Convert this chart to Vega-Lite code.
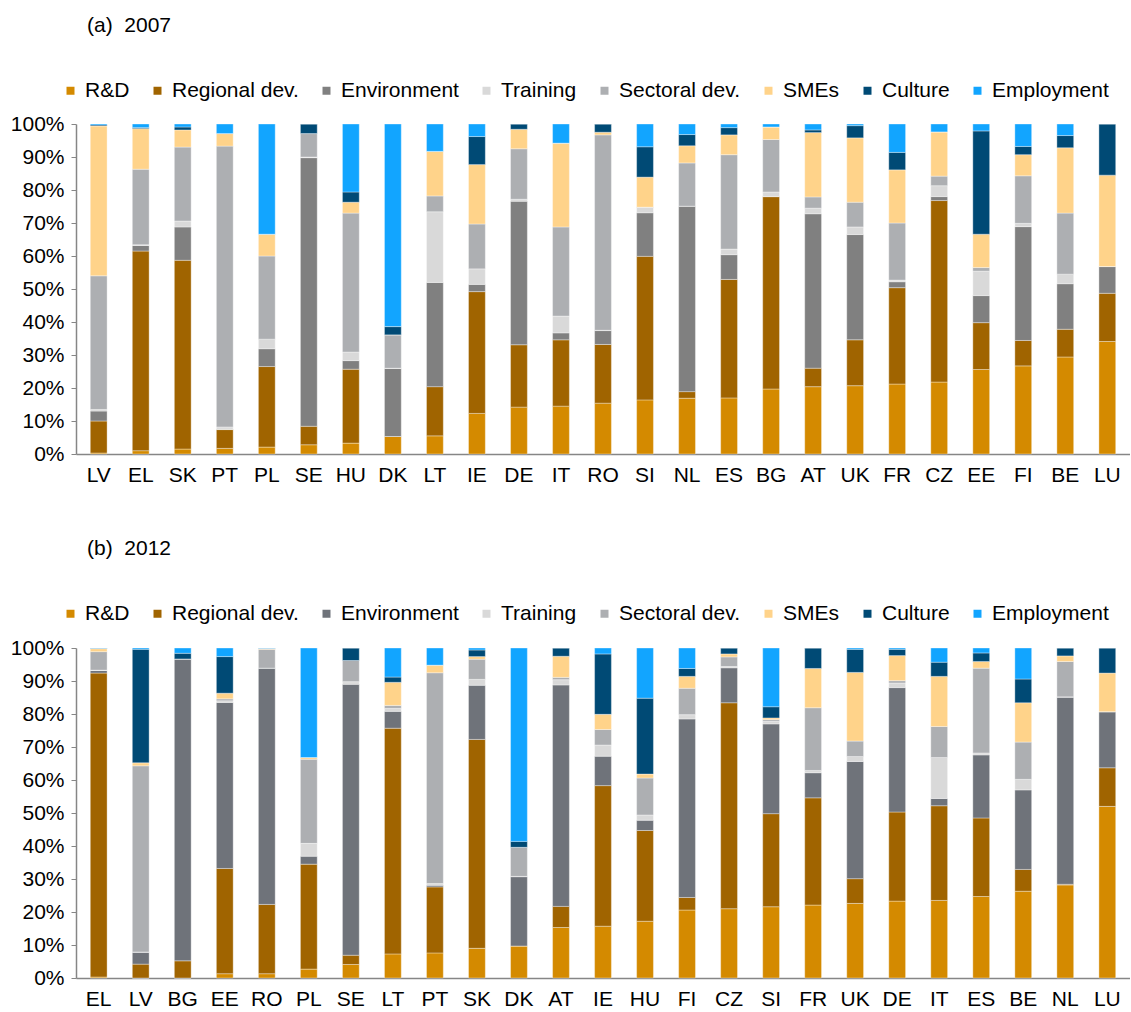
{
  "$schema": "https://vega.github.io/schema/vega-lite/v6.json",
  "background": "white",
  "padding": {"left": 10, "top": 15, "right": 0, "bottom": 0},
  "spacing": 53,
  "config": {
    "font": "Liberation Sans",
    "view": {"stroke": null},
    "axis": {"labelFont": "Liberation Sans", "labelFontSize": 21, "labelColor": "#000000", "domainColor": "#868686", "tickColor": "#868686", "domainWidth": 1.5, "grid": false, "title": null},
    "legend": {"labelFont": "Liberation Sans", "labelFontSize": 21, "labelColor": "#000000", "symbolType": "square", "symbolSize": 64, "symbolStrokeWidth": 0, "labelOffset": 4, "columnPadding": 17, "direction": "horizontal", "title": null},
    "title": {"font": "Liberation Sans", "fontSize": 21, "fontWeight": "normal", "color": "#000000", "anchor": "start", "frame": "group"}
  },
  "datasets": {
    "a": [
      {"c":"LV","a_rd":0.3,"b_reg":9.7,"c_env":3,"d_tr":0.5,"e_sec":40.5,"f_sme":45.4,"g_cul":0.3,"h_emp":0.3},
      {"c":"EL","a_rd":1,"b_reg":60.5,"c_env":1.7,"d_tr":0.2,"e_sec":22.9,"f_sme":12.3,"g_cul":0.3,"h_emp":1.1},
      {"c":"SK","a_rd":1.5,"b_reg":57.2,"c_env":10.1,"d_tr":1.8,"e_sec":22.4,"f_sme":5.2,"g_cul":0.9,"h_emp":0.9},
      {"c":"PT","a_rd":1.7,"b_reg":5.7,"c_env":0.1,"d_tr":0.7,"e_sec":85.1,"f_sme":3.8,"g_cul":0,"h_emp":2.9},
      {"c":"PL","a_rd":2.1,"b_reg":24.4,"c_env":5.4,"d_tr":2.9,"e_sec":25.2,"f_sme":6.6,"g_cul":0,"h_emp":33.4},
      {"c":"SE","a_rd":2.8,"b_reg":5.6,"c_env":81.4,"d_tr":0.2,"e_sec":7.1,"f_sme":0,"g_cul":2.9,"h_emp":0},
      {"c":"HU","a_rd":3.3,"b_reg":22.4,"c_env":2.6,"d_tr":2.6,"e_sec":42.1,"f_sme":3.3,"g_cul":3.1,"h_emp":20.6},
      {"c":"DK","a_rd":5.3,"b_reg":0,"c_env":20.6,"d_tr":0.1,"e_sec":10.1,"f_sme":0,"g_cul":2.5,"h_emp":61.4},
      {"c":"LT","a_rd":5.5,"b_reg":14.9,"c_env":31.6,"d_tr":21.4,"e_sec":4.8,"f_sme":13.5,"g_cul":0,"h_emp":8.3},
      {"c":"IE","a_rd":12.3,"b_reg":36.9,"c_env":2.2,"d_tr":4.7,"e_sec":13.6,"f_sme":18,"g_cul":8.5,"h_emp":3.8},
      {"c":"DE","a_rd":14.2,"b_reg":18.9,"c_env":43.5,"d_tr":0.6,"e_sec":15.3,"f_sme":5.9,"g_cul":1.6,"h_emp":0},
      {"c":"IT","a_rd":14.5,"b_reg":20.1,"c_env":2.1,"d_tr":5.1,"e_sec":27,"f_sme":25.4,"g_cul":0,"h_emp":5.8},
      {"c":"RO","a_rd":15.4,"b_reg":17.8,"c_env":4.2,"d_tr":0.1,"e_sec":59.2,"f_sme":0.8,"g_cul":2.5,"h_emp":0},
      {"c":"SI","a_rd":16.4,"b_reg":43.5,"c_env":13.2,"d_tr":1.6,"e_sec":0.1,"f_sme":9.1,"g_cul":9.2,"h_emp":6.9},
      {"c":"NL","a_rd":16.9,"b_reg":2,"c_env":56.2,"d_tr":0,"e_sec":13.1,"f_sme":5.2,"g_cul":3.4,"h_emp":3.2},
      {"c":"ES","a_rd":17,"b_reg":35.9,"c_env":7.5,"d_tr":1.7,"e_sec":28.6,"f_sme":6,"g_cul":2.2,"h_emp":1.1},
      {"c":"BG","a_rd":19.7,"b_reg":58.3,"c_env":0,"d_tr":1.4,"e_sec":15.9,"f_sme":3.8,"g_cul":0,"h_emp":0.9},
      {"c":"AT","a_rd":20.4,"b_reg":5.6,"c_env":46.8,"d_tr":1.7,"e_sec":3.4,"f_sme":19.5,"g_cul":0.8,"h_emp":1.8},
      {"c":"UK","a_rd":20.7,"b_reg":13.9,"c_env":31.9,"d_tr":2.3,"e_sec":7.5,"f_sme":19.5,"g_cul":3.7,"h_emp":0.5},
      {"c":"FR","a_rd":21.2,"b_reg":29.2,"c_env":1.8,"d_tr":0.5,"e_sec":17.3,"f_sme":16.1,"g_cul":5.3,"h_emp":8.6},
      {"c":"CZ","a_rd":21.8,"b_reg":55,"c_env":1.2,"d_tr":3.3,"e_sec":2.9,"f_sme":13.4,"g_cul":0,"h_emp":2.4},
      {"c":"EE","a_rd":25.6,"b_reg":14.2,"c_env":8.2,"d_tr":7.4,"e_sec":1.1,"f_sme":10.1,"g_cul":31.3,"h_emp":2.1},
      {"c":"FI","a_rd":26.7,"b_reg":7.7,"c_env":34.5,"d_tr":1,"e_sec":14.4,"f_sme":6.4,"g_cul":2.5,"h_emp":6.8},
      {"c":"BE","a_rd":29.4,"b_reg":8.4,"c_env":13.8,"d_tr":2.9,"e_sec":18.5,"f_sme":19.8,"g_cul":3.7,"h_emp":3.5},
      {"c":"LU","a_rd":34.1,"b_reg":14.6,"c_env":8.1,"d_tr":0,"e_sec":0,"f_sme":27.7,"g_cul":15.5,"h_emp":0}
    ],
    "b": [
      {"c":"EL","a_rd":0.3,"b_reg":92.1,"c_env":0.8,"d_tr":0.1,"e_sec":5.6,"f_sme":0.9,"g_cul":0.1,"h_emp":0.1},
      {"c":"LV","a_rd":0,"b_reg":4.2,"c_env":3.6,"d_tr":0.1,"e_sec":56.4,"f_sme":0.9,"g_cul":34.4,"h_emp":0.4},
      {"c":"BG","a_rd":0,"b_reg":5.2,"c_env":91.5,"d_tr":0,"e_sec":0,"f_sme":0,"g_cul":1.7,"h_emp":1.6},
      {"c":"EE","a_rd":1.3,"b_reg":31.9,"c_env":50.3,"d_tr":0.5,"e_sec":0.6,"f_sme":1.7,"g_cul":11.1,"h_emp":2.6},
      {"c":"RO","a_rd":1.3,"b_reg":21,"c_env":71.6,"d_tr":0,"e_sec":5.7,"f_sme":0.2,"g_cul":0.1,"h_emp":0.1},
      {"c":"PL","a_rd":2.7,"b_reg":31.8,"c_env":2.4,"d_tr":3.9,"e_sec":25.5,"f_sme":0.5,"g_cul":0,"h_emp":33.2},
      {"c":"SE","a_rd":4.1,"b_reg":2.8,"c_env":82.1,"d_tr":0.8,"e_sec":6.4,"f_sme":0,"g_cul":3.8,"h_emp":0},
      {"c":"LT","a_rd":7.3,"b_reg":68.4,"c_env":5.1,"d_tr":0.9,"e_sec":0.9,"f_sme":7,"g_cul":1.6,"h_emp":8.8},
      {"c":"PT","a_rd":7.6,"b_reg":20,"c_env":0.5,"d_tr":0.5,"e_sec":63.9,"f_sme":2.3,"g_cul":0,"h_emp":5.2},
      {"c":"SK","a_rd":9,"b_reg":63.3,"c_env":16.4,"d_tr":1.8,"e_sec":6.1,"f_sme":0.8,"g_cul":2,"h_emp":0.6},
      {"c":"DK","a_rd":9.7,"b_reg":0,"c_env":21,"d_tr":0.1,"e_sec":8.8,"f_sme":0,"g_cul":1.8,"h_emp":58.6},
      {"c":"AT","a_rd":15.3,"b_reg":6.4,"c_env":67.1,"d_tr":1.6,"e_sec":0.7,"f_sme":6.4,"g_cul":2.5,"h_emp":0},
      {"c":"IE","a_rd":15.7,"b_reg":42.6,"c_env":8.9,"d_tr":3.4,"e_sec":4.7,"f_sme":4.6,"g_cul":18.3,"h_emp":1.8},
      {"c":"HU","a_rd":17.2,"b_reg":27.5,"c_env":3.1,"d_tr":1.6,"e_sec":11.2,"f_sme":1.2,"g_cul":23,"h_emp":15.2},
      {"c":"FI","a_rd":20.6,"b_reg":3.8,"c_env":54.1,"d_tr":1.3,"e_sec":8,"f_sme":3.6,"g_cul":2.4,"h_emp":6.2},
      {"c":"CZ","a_rd":21,"b_reg":62.4,"c_env":10.6,"d_tr":0.4,"e_sec":2.9,"f_sme":0.9,"g_cul":1.8,"h_emp":0},
      {"c":"SI","a_rd":21.6,"b_reg":28.2,"c_env":27.2,"d_tr":0.8,"e_sec":0.5,"f_sme":0.5,"g_cul":3.4,"h_emp":17.8},
      {"c":"FR","a_rd":22.1,"b_reg":32.5,"c_env":7.6,"d_tr":0.7,"e_sec":19,"f_sme":11.9,"g_cul":6.2,"h_emp":0},
      {"c":"UK","a_rd":22.6,"b_reg":7.5,"c_env":35.5,"d_tr":1.5,"e_sec":4.7,"f_sme":20.8,"g_cul":7,"h_emp":0.4},
      {"c":"DE","a_rd":23.3,"b_reg":27,"c_env":37.7,"d_tr":1.4,"e_sec":0.7,"f_sme":7.6,"g_cul":1.9,"h_emp":0.4},
      {"c":"IT","a_rd":23.5,"b_reg":28.7,"c_env":2.2,"d_tr":12.4,"e_sec":9.4,"f_sme":15.2,"g_cul":4.3,"h_emp":4.3},
      {"c":"ES","a_rd":24.7,"b_reg":23.8,"c_env":19.1,"d_tr":0.6,"e_sec":25.7,"f_sme":2,"g_cul":2.6,"h_emp":1.5},
      {"c":"BE","a_rd":26.3,"b_reg":6.6,"c_env":24.1,"d_tr":3.2,"e_sec":11.3,"f_sme":11.9,"g_cul":7.2,"h_emp":9.4},
      {"c":"NL","a_rd":28.2,"b_reg":0.2,"c_env":56.7,"d_tr":0.1,"e_sec":10.7,"f_sme":1.7,"g_cul":2.4,"h_emp":0},
      {"c":"LU","a_rd":52,"b_reg":11.7,"c_env":17,"d_tr":0,"e_sec":0,"f_sme":11.7,"g_cul":7.6,"h_emp":0}
    ]
  },
  "resolve": {"scale": {"color": "independent"}, "legend": {"color": "independent"}},
  "vconcat": [
    {
      "title": {"text": "(a)\u00a0\u00a02007", "dx": 11, "offset": 44},
      "data": {"name": "a"},
      "transform": [{"fold": ["a_rd","b_reg","c_env","d_tr","e_sec","f_sme","g_cul","h_emp"], "as": ["cat","v"]}],
      "width": 1054,
      "height": 330,
      "mark": {"type": "bar", "stroke": "#ffffff", "strokeWidth": 0.5, "strokeOpacity": 0.7},
      "encoding": {
        "x": {"field": "c", "type": "nominal", "sort": null, "scale": {"paddingInner": 0.6, "paddingOuter": 0.34}, "axis": {"labelAngle": 0, "ticks": false, "labelPadding": 10}},
        "y": {"field": "v", "type": "quantitative", "stack": "normalize", "scale": {"domain": [0, 1], "nice": false}, "axis": {"values": [0,0.1,0.2,0.3,0.4,0.5,0.6,0.7,0.8,0.9,1], "format": ".0%", "tickSize": 5, "labelPadding": 7}},
        "order": {"field": "cat", "sort": "ascending"},
        "color": {
          "field": "cat", "type": "nominal",
          "scale": {"domain": ["a_rd","b_reg","c_env","d_tr","e_sec","f_sme","g_cul","h_emp"], "range": ["#D48A00","#A06400","#808080","#D9D9D9","#ADAFB2","#FFD38A","#004A75","#12A5FF"]},
          "legend": {"orient": "none", "legendX": -16, "legendY": -44, "labelExpr": "datum.label == 'a_rd' ? 'R&D' : datum.label == 'b_reg' ? 'Regional dev.' : datum.label == 'c_env' ? 'Environment' : datum.label == 'd_tr' ? 'Training' : datum.label == 'e_sec' ? 'Sectoral dev.' : datum.label == 'f_sme' ? 'SMEs' : datum.label == 'g_cul' ? 'Culture' : 'Employment'"}
        }
      }
    },
    {
      "title": {"text": "(b)\u00a0\u00a02012", "dx": 11, "offset": 44},
      "data": {"name": "b"},
      "transform": [{"fold": ["a_rd","b_reg","c_env","d_tr","e_sec","f_sme","g_cul","h_emp"], "as": ["cat","v"]}],
      "width": 1054,
      "height": 330,
      "mark": {"type": "bar", "stroke": "#ffffff", "strokeWidth": 0.5, "strokeOpacity": 0.7},
      "encoding": {
        "x": {"field": "c", "type": "nominal", "sort": null, "scale": {"paddingInner": 0.6, "paddingOuter": 0.34}, "axis": {"labelAngle": 0, "ticks": false, "labelPadding": 10}},
        "y": {"field": "v", "type": "quantitative", "stack": "normalize", "scale": {"domain": [0, 1], "nice": false}, "axis": {"values": [0,0.1,0.2,0.3,0.4,0.5,0.6,0.7,0.8,0.9,1], "format": ".0%", "tickSize": 5, "labelPadding": 7}},
        "order": {"field": "cat", "sort": "ascending"},
        "color": {
          "field": "cat", "type": "nominal",
          "scale": {"domain": ["a_rd","b_reg","c_env","d_tr","e_sec","f_sme","g_cul","h_emp"], "range": ["#D48A00","#A06400","#6F737A","#D9D9D9","#ADAFB2","#FFD38A","#004A75","#12A5FF"]},
          "legend": {"orient": "none", "legendX": -16, "legendY": -45, "labelExpr": "datum.label == 'a_rd' ? 'R&D' : datum.label == 'b_reg' ? 'Regional dev.' : datum.label == 'c_env' ? 'Environment' : datum.label == 'd_tr' ? 'Training' : datum.label == 'e_sec' ? 'Sectoral dev.' : datum.label == 'f_sme' ? 'SMEs' : datum.label == 'g_cul' ? 'Culture' : 'Employment'"}
        }
      }
    }
  ]
}
